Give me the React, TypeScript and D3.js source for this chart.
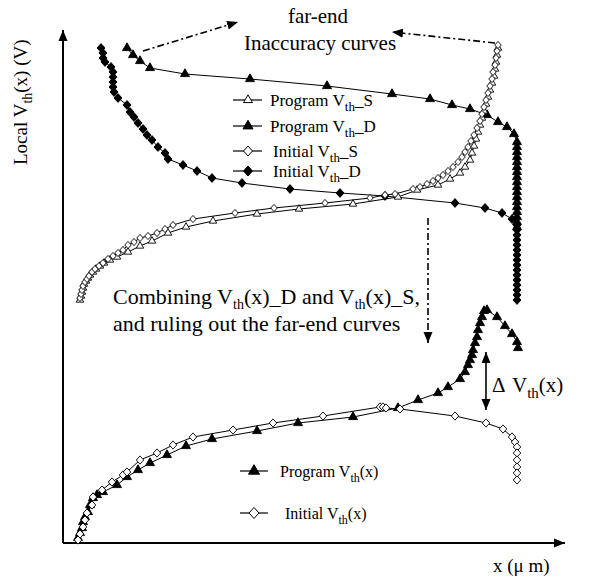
import React from "react";
import * as d3 from "d3";

const W = 601;
const H = 579;

// x: position along channel (a.u.), y: local Vth (a.u.)
const programVthS: [number, number][] = [
  [17, 243], [18, 247], [19, 251], [20, 255], [21, 259], [23, 262], [25, 265], [27, 268], [30, 271], [33, 274],
  [37, 277], [41, 280], [47, 283], [54, 286], [65, 291], [77, 297], [89, 302], [105, 310], [123, 316], [150, 322],
  [194, 329], [236, 334], [290, 339], [335, 346], [354, 353], [375, 358], [387, 364], [397, 370], [402, 376], [407, 383],
  [409, 390], [411, 397], [413, 404], [415, 411], [417, 418], [419, 425], [421, 432], [423, 439], [425, 446], [427, 453],
  [429, 460], [431, 467], [432, 474], [433, 481], [434, 488], [435, 495],
];

const programVthD: [number, number][] = [
  [64, 495], [70, 488], [77, 482], [87, 475], [122, 469], [187, 464], [264, 457], [329, 449], [367, 444], [389, 438],
  [407, 434], [424, 428], [435, 421], [444, 416], [451, 409], [454, 401], [454, 396], [454, 391], [454, 386], [454, 381],
  [454, 376], [454, 371], [454, 366], [454, 361], [454, 356], [454, 351], [454, 346], [454, 341], [454, 336], [454, 331],
  [454, 326], [454, 321], [454, 316],
];

const initialVthS: [number, number][] = [
  [17, 245], [18, 249], [19, 253], [20, 257], [22, 261], [24, 264], [26, 267], [29, 271], [32, 274], [36, 277],
  [40, 280], [45, 284], [50, 287], [55, 290], [60, 293], [65, 298], [71, 301], [77, 305], [85, 307], [94, 310],
  [102, 314], [110, 318], [130, 324], [172, 330], [211, 335], [262, 340], [307, 345], [322, 348], [332, 349], [350, 354],
  [357, 356], [364, 359], [370, 362], [375, 365], [380, 368], [385, 372], [390, 376], [395, 381], [399, 386], [402, 391],
  [405, 396], [408, 402], [411, 408], [414, 415], [417, 422], [419, 429], [421, 436], [423, 443], [425, 450], [427, 457],
  [429, 464], [430, 471], [432, 478], [433, 485], [434, 492], [435, 498],
];

const initialVthD: [number, number][] = [
  [38, 495], [40, 490], [40, 485], [42, 481], [48, 476], [50, 471], [50, 466], [50, 461], [50, 456], [51, 451],
  [55, 445], [64, 438], [67, 431], [71, 426], [75, 420], [80, 414], [84, 408], [89, 403], [95, 396], [102, 390],
  [105, 384], [120, 378], [134, 372], [149, 365], [179, 360], [227, 354], [277, 350], [322, 347], [392, 340], [422, 335],
  [439, 330], [449, 324], [454, 318], [454, 313], [454, 308], [454, 303], [454, 298], [454, 293], [454, 288], [454, 283],
  [454, 278], [454, 273], [454, 268], [454, 263], [454, 258], [454, 253], [454, 248], [454, 243],
];

// Lower panel: combined curves
const programVth: [number, number][] = [
  [15, 5], [17, 10], [19, 15], [20, 21], [22, 26], [25, 31], [27, 38], [30, 45], [34, 48], [40, 51],
  [54, 58], [64, 66], [75, 73], [87, 80], [104, 88], [123, 97], [149, 104], [194, 112], [235, 120], [290, 126],
  [335, 135], [355, 143], [375, 150], [385, 156], [397, 164], [402, 171], [405, 178], [407, 183], [409, 188], [410, 193],
  [412, 200], [414, 206], [415, 213], [417, 220], [419, 226], [421, 232], [424, 233], [434, 226], [442, 217], [449, 209],
  [454, 201], [455, 195],
];

const initialVth: [number, number][] = [
  [15, 3], [17, 9], [20, 16], [22, 23], [24, 30], [29, 38], [30, 46], [39, 53], [49, 61], [60, 68],
  [64, 71], [77, 83], [94, 90], [110, 98], [130, 106], [170, 113], [210, 120], [260, 127], [317, 136], [320, 136],
  [323, 135], [337, 134], [392, 127], [423, 120], [440, 114], [449, 106], [452, 101], [454, 96], [454, 90], [454, 83],
  [454, 76], [454, 70], [454, 63],
];

// annotation arrows (data units)
const farEndArrowLeft: [number, number][] = [[80, 492], [175, 521]];
const farEndArrowRight: [number, number][] = [[432, 500], [329, 511]];
const combineArrow: [number, number][] = [[365, 325], [365, 200]];
const deltaArrow: [number, number][] = [[423, 191], [423, 133]];

const xScale = d3.scaleLinear().domain([0, 500]).range([63, 563]);
const yScale = d3.scaleLinear().domain([0, 510]).range([543, 33]);

const triType = {
  draw(ctx: any, s: number) {
    const h = (s * Math.sqrt(3)) / 2;
    ctx.moveTo(0, (-2 * h) / 3);
    ctx.lineTo(s / 2, h / 3);
    ctx.lineTo(-s / 2, h / 3);
    ctx.closePath();
  },
};
const diaType = {
  draw(ctx: any, s: number) {
    const r = s / 2;
    ctx.moveTo(0, -r * 1.1);
    ctx.lineTo(r, 0);
    ctx.lineTo(0, r * 1.1);
    ctx.lineTo(-r, 0);
    ctx.closePath();
  },
};

type Series = { data: [number, number][]; kind: "tri" | "dia"; filled: boolean; size: number };

const seriesList: Series[] = [
  { data: initialVthD, kind: "dia", filled: true, size: 8 },
  { data: programVthD, kind: "tri", filled: true, size: 9 },
  { data: programVthS, kind: "tri", filled: false, size: 7.5 },
  { data: initialVthS, kind: "dia", filled: false, size: 6.5 },
  { data: programVth, kind: "tri", filled: true, size: 9 },
  { data: initialVth, kind: "dia", filled: false, size: 7.5 },
];

const line = d3
  .line<[number, number]>()
  .x((d) => xScale(d[0]))
  .y((d) => yScale(d[1]));

function symPath(kind: "tri" | "dia", size: number) {
  return d3.symbol(kind === "tri" ? (triType as any) : (diaType as any), size)() as string;
}

const FONT = "'Liberation Serif', 'Times New Roman', serif";

// Rich text: segments alternate normal / subscript
type Seg = { t: string; sub?: boolean };
function Rich({ segs, subSize, shift }: { segs: Seg[]; subSize: number; shift: number }) {
  let cur = 0;
  return (
    <>
      {segs.map((s, i) => {
        const target = s.sub ? shift : 0;
        const dy = target - cur;
        cur = target;
        return (
          <tspan key={i} dy={dy || undefined} fontSize={s.sub ? subSize : undefined}>
            {s.t}
          </tspan>
        );
      })}
    </>
  );
}

function LegendItem({ x, y, kind, filled, size, segs, textX }: any) {
  return (
    <g>
      <line x1={x - 15} x2={x + 14} y1={y} y2={y} stroke="#000" strokeWidth={1.2} />
      <path
        d={symPath(kind, size)}
        transform={`translate(${x},${y})`}
        fill={filled ? "#000" : "#fff"}
        stroke="#000"
        strokeWidth={1}
      />
      <text x={textX} y={y + 6} fontFamily={FONT} fontSize={17}>
        <Rich segs={segs} subSize={13} shift={5} />
      </text>
    </g>
  );
}

export default function App() {
  const arrow = (pts: [number, number][], dashed: boolean, marker: string, start?: string) => (
    <line
      x1={xScale(pts[0][0])}
      y1={yScale(pts[0][1])}
      x2={xScale(pts[1][0])}
      y2={yScale(pts[1][1])}
      stroke="#000"
      strokeWidth={1.6}
      strokeDasharray={dashed ? "7,3,2,3" : undefined}
      markerEnd={`url(#${marker})`}
      markerStart={start ? `url(#${start})` : undefined}
    />
  );

  return (
    <svg width={W} height={H} style={{ position: "absolute", left: 0, top: 0, background: "#fff" }}>
      <defs>
        <marker id="ah" markerUnits="userSpaceOnUse" markerWidth={12} markerHeight={10} refX={11} refY={5} orient="auto">
          <path d="M0,0.5 L11,5 L0,9.5 Z" fill="#000" />
        </marker>
        <marker id="ahs" markerUnits="userSpaceOnUse" markerWidth={12} markerHeight={10} refX={11} refY={5} orient="auto-start-reverse">
          <path d="M0,0.5 L11,5 L0,9.5 Z" fill="#000" />
        </marker>
      </defs>
      <rect width={W} height={H} fill="#fff" />

      {/* axes */}
      <line x1={xScale(0)} y1={yScale(0)} x2={xScale(0)} y2={yScale(513)} stroke="#000" strokeWidth={2} markerEnd="url(#ah)" />
      <line x1={xScale(0)} y1={yScale(0)} x2={xScale(502)} y2={yScale(0)} stroke="#000" strokeWidth={2} markerEnd="url(#ah)" />

      {/* lines */}
      {seriesList.map((s, i) => (
        <path key={"l" + i} d={line(s.data) as string} fill="none" stroke="#000" strokeWidth={1} />
      ))}
      {/* markers */}
      {seriesList.map((s, i) => (
        <g key={"m" + i}>
          {s.data.map((d, j) => (
            <path
              key={j}
              d={symPath(s.kind, s.size)}
              transform={`translate(${xScale(d[0])},${yScale(d[1])})`}
              fill={s.filled ? "#000" : "#fff"}
              stroke="#000"
              strokeWidth={0.9}
            />
          ))}
        </g>
      ))}

      {/* annotation arrows */}
      {arrow(farEndArrowLeft, true, "ah")}
      {arrow(farEndArrowRight, true, "ah")}
      {arrow(combineArrow, true, "ah")}
      {arrow(deltaArrow, false, "ahs", "ahs")}

      {/* titles */}
      <text x={318} y={23} fontFamily={FONT} fontSize={21} textAnchor="middle">far-end</text>
      <text x={320} y={50} fontFamily={FONT} fontSize={21} textAnchor="middle">Inaccuracy curves</text>

      {/* upper legend */}
      <LegendItem x={248} y={100} kind="tri" filled={false} size={9} textX={270}
        segs={[{ t: "Program V" }, { t: "th", sub: true }, { t: "_S" }]} />
      <LegendItem x={248} y={126} kind="tri" filled={true} size={10} textX={270}
        segs={[{ t: "Program V" }, { t: "th", sub: true }, { t: "_D" }]} />
      <LegendItem x={248} y={151} kind="dia" filled={false} size={9} textX={273}
        segs={[{ t: "Initial V" }, { t: "th", sub: true }, { t: "_S" }]} />
      <LegendItem x={248} y={171} kind="dia" filled={true} size={9} textX={273}
        segs={[{ t: "Initial V" }, { t: "th", sub: true }, { t: "_D" }]} />

      {/* combining text */}
      <text x={113} y={304} fontFamily={FONT} fontSize={22}>
        <Rich
          subSize={14}
          shift={5}
          segs={[{ t: "Combining V" }, { t: "th", sub: true }, { t: "(x)_D and V" }, { t: "th", sub: true }, { t: "(x)_S," }]}
        />
      </text>
      <text x={113} y={331} fontFamily={FONT} fontSize={22}>
        and ruling out the far-end curves
      </text>

      {/* delta label */}
      <text x={492} y={392} fontFamily={FONT} fontSize={21}>Δ</text>
      <text x={512} y={392} fontFamily={FONT} fontSize={21}>
        <Rich subSize={15} shift={6} segs={[{ t: "V" }, { t: "th", sub: true }, { t: "(x)" }]} />
      </text>

      {/* lower legend */}
      <g>
        <line x1={240} x2={268} y1={471} y2={471} stroke="#000" strokeWidth={1.2} />
        <path d={symPath("tri", 11)} transform="translate(254,471)" fill="#000" stroke="#000" />
        <text x={280} y={477} fontFamily={FONT} fontSize={16}>
          <Rich subSize={12} shift={5} segs={[{ t: "Program V" }, { t: "th", sub: true }, { t: "(x)" }]} />
        </text>
        <line x1={240} x2={268} y1={513} y2={513} stroke="#000" strokeWidth={1.2} />
        <path d={symPath("dia", 10)} transform="translate(254,513)" fill="#fff" stroke="#000" />
        <text x={285} y={519} fontFamily={FONT} fontSize={16}>
          <Rich subSize={12} shift={5} segs={[{ t: "Initial V" }, { t: "th", sub: true }, { t: "(x)" }]} />
        </text>
      </g>

      {/* axis labels */}
      <text transform="translate(27,165) rotate(-90)" fontFamily={FONT} fontSize={19}>
        <Rich subSize={14} shift={5} segs={[{ t: "Local V" }, { t: "th", sub: true }, { t: "(x) (V)" }]} />
      </text>
      <text x={493} y={572} fontFamily={FONT} fontSize={19}>
        x (μ m)
      </text>
    </svg>
  );
}
